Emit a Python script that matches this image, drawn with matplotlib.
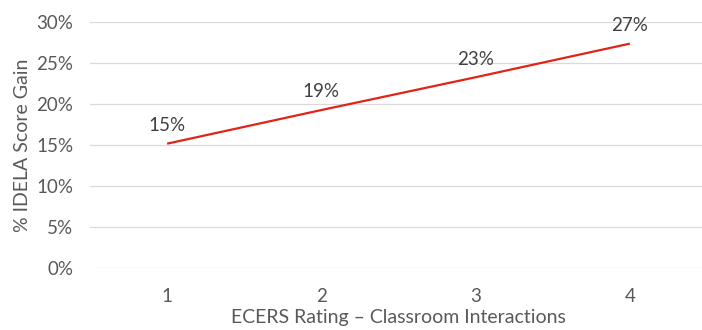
import matplotlib
matplotlib.use("Agg")
import matplotlib.pyplot as plt
from matplotlib.ticker import FuncFormatter

categories = ["1", "2", "3", "4"]
gain = [0.152, 0.193, 0.233, 0.274]
labels = ["15%", "19%", "23%", "27%"]
yticks = [0, 0.05, 0.10, 0.15, 0.20, 0.25, 0.30]

plt.rcParams['font.family'] = ['Lato', 'DejaVu Sans']

W, H = 702, 330
fig = plt.figure(figsize=(W/100, H/100), dpi=100)
left, right, bottom, top = 90, 707, 268.3, 22.3
ax = fig.add_axes([left/W, (H-bottom)/H, (right-left)/W, (bottom-top)/H])

x = list(range(1, len(categories)+1))
ax.plot(x, gain, color="#E2231A", lw=1.6, solid_capstyle="butt", zorder=3)
for xi, yi, lab in zip(x, gain, labels):
    ax.annotate(lab, (xi, yi), xytext=(0, 13), textcoords="offset points",
                ha="center", va="center", fontsize=13.5, color="#404040")

ax.set_xlim(0.5, len(categories)+0.5)
ax.set_ylim(0, 0.30)
ax.set_xticks(x)
ax.set_xticklabels(categories)
ax.set_yticks(yticks)
ax.yaxis.set_major_formatter(FuncFormatter(lambda v, p: f"{v*100:.0f}%"))
ax.grid(axis="y", color="#D9D9D9", lw=0.9)
ax.set_axisbelow(True)
for s in ax.spines.values():
    s.set_visible(False)
ax.tick_params(length=0, labelsize=13.5, colors="#595959")
ax.tick_params(axis="y", pad=12)
ax.tick_params(axis="x", pad=14)
ax.set_xlabel("ECERS Rating – Classroom Interactions", fontsize=14, color="#595959", labelpad=3)
ax.set_ylabel("% IDELA Score Gain", fontsize=14, color="#595959", labelpad=4)

fig.savefig("out.png", dpi=100)
